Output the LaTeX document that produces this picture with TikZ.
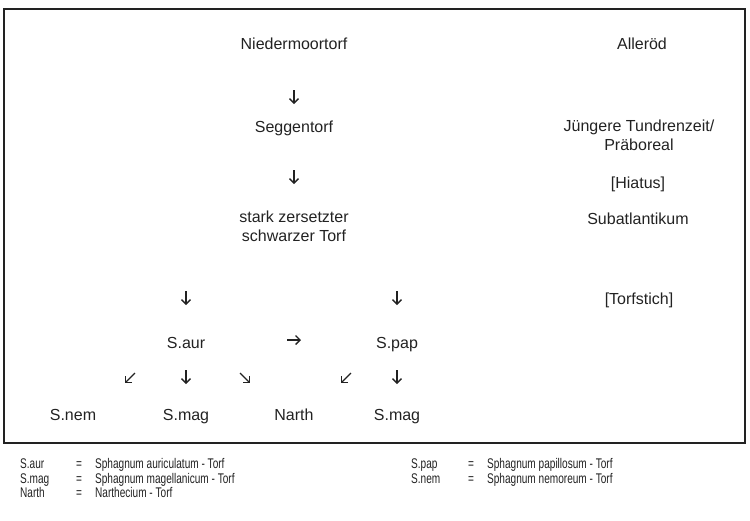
\documentclass[tikz,border=0pt]{standalone}
\usepackage{fontspec}
\setmainfont{Liberation Sans}
\usetikzlibrary{arrows.meta}
\definecolor{ink}{HTML}{222222}
\begin{document}
\begin{tikzpicture}[x=1pt,y=-1pt,
  every node/.style={text=ink},
  lbl/.style={font=\fontsize{16}{19}\selectfont, align=center, inner sep=0pt},
  one/.style={lbl, anchor=base},
  arr/.style={draw=ink, line width=1.3pt, -{Straight Barb[length=4.5pt,width=9pt,line width=1.3pt]}},
  leg/.style={font=\fontsize{14}{15}\selectfont, anchor=base west, inner sep=0pt, xscale=0.72}]
\useasboundingbox (0,0) rectangle (750,520);
\draw[ink, line width=1.3pt] (4,9) rectangle (745,443);
% left column
\node[one] (nied) at (294,49) {Niedermoortorf};
\node[one] (segg) at (294,132) {Seggentorf};
\node[lbl] (stark) at (294,226) {stark zersetzter\\schwarzer Torf};
\node[one] (saur) at (186,348) {S.aur};
\node[one] (spap) at (397,348) {S.pap};
\node[one] (snem) at (73,420) {S.nem};
\node[one] (smag1) at (186,420) {S.mag};
\node[one] (narth) at (294,420) {Narth};
\node[one] (smag2) at (397,420) {S.mag};
% arrow end points
\coordinate (a1s) at (294,90);  \coordinate (a1e) at (294,104);
\coordinate (a2s) at (294,170); \coordinate (a2e) at (294,184);
\coordinate (a3s) at (186,291); \coordinate (a3e) at (186,305);
\coordinate (a4s) at (397,291); \coordinate (a4e) at (397,305);
\coordinate (a5s) at (287,340); \coordinate (a5e) at (301,340);
\coordinate (a6s) at (135,373); \coordinate (a6e) at (125,383);
\coordinate (a7s) at (186,370); \coordinate (a7e) at (186,384);
\coordinate (a8s) at (240,373); \coordinate (a8e) at (250,383);
\coordinate (a9s) at (351,373); \coordinate (a9e) at (341,383);
\coordinate (a10s) at (397,370); \coordinate (a10e) at (397,384);
\foreach \i in {1,...,10} {\draw[arr] (a\i s) -- (a\i e);}
% right column
\node[one] (all) at (642,49) {Alleröd};
\node[lbl] (jung) at (639,135) {Jüngere Tundrenzeit/\\Präboreal};
\node[one] (hiat) at (638,188) {[Hiatus]};
\node[one] (subat) at (638,224) {Subatlantikum};
\node[one] (torfst) at (639,304) {[Torfstich]};
% legend
\node[leg] (l1a) at (20,468) {S.aur};
\node[leg] (l1b) at (76,468) {=};
\node[leg] (l1c) at (95,468) {Sphagnum auriculatum - Torf};
\node[leg] (l2a) at (20,483) {S.mag};
\node[leg] (l2b) at (76,483) {=};
\node[leg] (l2c) at (95,483) {Sphagnum magellanicum - Torf};
\node[leg] (l3a) at (20,497) {Narth};
\node[leg] (l3b) at (76,497) {=};
\node[leg] (l3c) at (95,497) {Narthecium - Torf};
\node[leg] (l4a) at (411,468) {S.pap};
\node[leg] (l4b) at (468,468) {=};
\node[leg] (l4c) at (487,468) {Sphagnum papillosum - Torf};
\node[leg] (l5a) at (411,483) {S.nem};
\node[leg] (l5b) at (468,483) {=};
\node[leg] (l5c) at (487,483) {Sphagnum nemoreum - Torf};
\end{tikzpicture}
\end{document}
